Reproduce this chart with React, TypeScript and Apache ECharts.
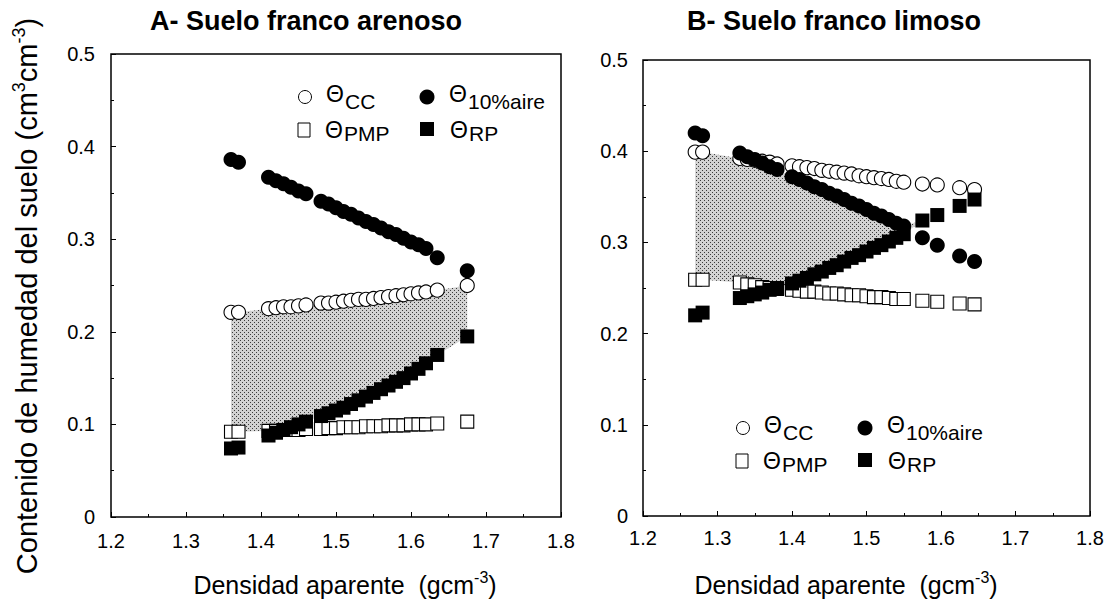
import React, { useEffect, useRef } from "react";
import * as echarts from "echarts";

const FONT = "'Liberation Sans', Arial, Helvetica, sans-serif";

// Axis ranges shared by both panels
const xRange = [1.2, 1.8];
const yRange = [0, 0.5];
const xStep = 0.1;
const yStep = 0.1;

// Panel titles and series labels
const panelTitles = ["A- Suelo franco arenoso", "B- Suelo franco limoso"];
const seriesKeys = ["CC", "10%aire", "PMP", "RP"];

// A – sandy loam: bulk density (g cm-3) and water contents (cm3 cm-3)
const densityA = [1.36, 1.37, 1.41, 1.42, 1.43, 1.44, 1.45, 1.46, 1.48, 1.49, 1.5, 1.51, 1.52, 1.53, 1.54, 1.55, 1.56, 1.57, 1.58, 1.59, 1.6, 1.61, 1.62, 1.635, 1.675];
const ccA = [0.221, 0.221, 0.225, 0.226, 0.227, 0.227, 0.228, 0.229, 0.231, 0.231, 0.232, 0.233, 0.234, 0.235, 0.235, 0.236, 0.237, 0.238, 0.239, 0.24, 0.241, 0.242, 0.243, 0.245, 0.25];
const aireA = [0.386, 0.383, 0.367, 0.363, 0.36, 0.356, 0.352, 0.349, 0.341, 0.338, 0.334, 0.33, 0.327, 0.323, 0.319, 0.316, 0.312, 0.308, 0.305, 0.301, 0.297, 0.294, 0.29, 0.28, 0.266];
const pmpA = [0.092, 0.092, 0.093, 0.093, 0.094, 0.094, 0.094, 0.095, 0.095, 0.096, 0.096, 0.097, 0.097, 0.097, 0.098, 0.098, 0.098, 0.099, 0.099, 0.099, 0.1, 0.1, 0.1, 0.101, 0.103];
const rpA = [0.074, 0.075, 0.088, 0.091, 0.094, 0.097, 0.1, 0.103, 0.109, 0.112, 0.115, 0.118, 0.122, 0.126, 0.13, 0.134, 0.138, 0.142, 0.146, 0.15, 0.155, 0.16, 0.166, 0.175, 0.195];

// B – silt loam
const densityB = [1.27, 1.28, 1.33, 1.34, 1.35, 1.36, 1.37, 1.38, 1.4, 1.41, 1.42, 1.43, 1.44, 1.45, 1.46, 1.47, 1.48, 1.49, 1.5, 1.51, 1.52, 1.53, 1.54, 1.55, 1.575, 1.595, 1.625, 1.645];
const ccB = [0.399, 0.399, 0.392, 0.391, 0.39, 0.389, 0.388, 0.386, 0.384, 0.383, 0.382, 0.381, 0.379, 0.378, 0.377, 0.376, 0.375, 0.373, 0.372, 0.371, 0.37, 0.369, 0.367, 0.366, 0.364, 0.363, 0.36, 0.358];
const aireB = [0.42, 0.417, 0.398, 0.394, 0.391, 0.387, 0.383, 0.38, 0.372, 0.369, 0.365, 0.361, 0.358, 0.354, 0.351, 0.347, 0.343, 0.34, 0.336, 0.332, 0.329, 0.325, 0.321, 0.318, 0.305, 0.297, 0.285, 0.279];
const pmpB = [0.259, 0.259, 0.256, 0.254, 0.253, 0.251, 0.25, 0.249, 0.248, 0.247, 0.246, 0.246, 0.245, 0.244, 0.244, 0.243, 0.242, 0.242, 0.241, 0.24, 0.24, 0.239, 0.238, 0.238, 0.236, 0.235, 0.233, 0.232];
const rpB = [0.22, 0.223, 0.239, 0.241, 0.243, 0.245, 0.248, 0.25, 0.255, 0.258, 0.261, 0.265, 0.268, 0.272, 0.275, 0.279, 0.283, 0.286, 0.29, 0.294, 0.297, 0.301, 0.305, 0.309, 0.324, 0.33, 0.34, 0.347];

// Plot boxes (px) and legend anchors (centre of the open-circle key)
const gridBoxes = [
  { left: 111, top: 54, width: 450, height: 463, labelGapX: 14, labelGapY: 16 },
  { left: 643, top: 60, width: 447, height: 456, labelGapX: 12, labelGapY: 15 },
];
const legendAnchors = [
  [305, 97],
  [743, 428],
];

function makeStipple(): HTMLCanvasElement {
  const c = document.createElement("canvas");
  c.width = 4;
  c.height = 4;
  const ctx = c.getContext("2d")!;
  ctx.fillStyle = "#d2d2d2";
  ctx.fillRect(0, 0, 4, 4);
  ctx.fillStyle = "#3a3a3a";
  ctx.fillRect(0, 0, 1, 1);
  ctx.fillRect(2, 2, 1, 1);
  return c;
}

function panelSeries(
  idx: number,
  dens: number[],
  cc: number[],
  aire: number[],
  pmp: number[],
  rp: number[],
  stipple: HTMLCanvasElement
) {
  // Optimal water range: between max(PMP, RP) and min(CC, 10% aire)
  const band = dens.map((d, i) => {
    const lo = Math.max(pmp[i], rp[i]);
    const hi = Math.max(Math.min(cc[i], aire[i]), lo);
    return [d, lo, hi];
  });
  const pts = (ys: number[]) => dens.map((d, i) => [d, ys[i]]);
  const common = {
    type: "scatter",
    xAxisIndex: idx,
    yAxisIndex: idx,
    silent: true,
    emphasis: { disabled: true },
    z: 3,
  };
  return [
    {
      type: "custom",
      xAxisIndex: idx,
      yAxisIndex: idx,
      silent: true,
      z: 1,
      data: band,
      encode: { x: 0, y: [1, 2] },
      renderItem: (params: any, api: any) => {
        if (params.dataIndex !== 0) return null;
        const top = band.map((b) => api.coord([b[0], b[2]]));
        const bottom = band.map((b) => api.coord([b[0], b[1]])).reverse();
        return {
          type: "polygon",
          shape: { points: top.concat(bottom) },
          style: {
            fill: { image: stipple, repeat: "repeat", imageWidth: 4, imageHeight: 4 },
            stroke: null,
          },
        };
      },
    },
    {
      ...common,
      name: seriesKeys[0],
      symbol: "circle",
      symbolSize: 14,
      data: pts(cc),
      itemStyle: { color: "#fff", borderColor: "#000", borderWidth: 1.1, opacity: 1 },
    },
    {
      ...common,
      name: seriesKeys[2],
      symbol: "rect",
      symbolSize: 13,
      data: pts(pmp),
      itemStyle: { color: "#fff", borderColor: "#000", borderWidth: 1.1, opacity: 1 },
    },
    {
      ...common,
      name: seriesKeys[1],
      symbol: "circle",
      symbolSize: 15,
      data: pts(aire),
      itemStyle: { color: "#000", borderWidth: 0, opacity: 1 },
    },
    {
      ...common,
      name: seriesKeys[3],
      symbol: "rect",
      symbolSize: 14,
      data: pts(rp),
      itemStyle: { color: "#000", borderWidth: 0, opacity: 1 },
    },
  ];
}

function legendGraphics(ax: number, ay: number) {
  const theta = (x: number, y: number) => ({
    type: "text",
    x,
    y,
    silent: true,
    style: { text: "Θ", fontSize: 23, fontFamily: FONT, fill: "#000", align: "left", verticalAlign: "middle" },
  });
  const sub = (x: number, y: number, t: string) => ({
    type: "text",
    x,
    y,
    silent: true,
    style: { text: t, fontSize: 21, fontFamily: FONT, fill: "#000", align: "left", verticalAlign: "middle" },
  });
  return [
    { type: "circle", silent: true, shape: { cx: ax, cy: ay, r: 6.5 }, style: { fill: "#fff", stroke: "#000", lineWidth: 1 } },
    theta(ax + 21, ay - 3),
    sub(ax + 40, ay + 4, seriesKeys[0]),
    { type: "circle", silent: true, shape: { cx: ax + 122, cy: ay, r: 7.5 }, style: { fill: "#000" } },
    theta(ax + 144, ay - 3),
    sub(ax + 163, ay + 4, seriesKeys[1]),
    { type: "rect", silent: true, shape: { x: ax - 7, y: ay + 26, width: 12, height: 14 }, style: { fill: "#fff", stroke: "#000", lineWidth: 1 } },
    theta(ax + 20, ay + 33),
    sub(ax + 39, ay + 36, seriesKeys[2]),
    { type: "rect", silent: true, shape: { x: ax + 115, y: ay + 25, width: 14, height: 14 }, style: { fill: "#000" } },
    theta(ax + 145, ay + 33),
    sub(ax + 164, ay + 36, seriesKeys[3]),
  ];
}

function xTitle(cx: number, cy: number) {
  return {
    type: "text",
    x: cx,
    y: cy,
    silent: true,
    style: {
      text: "{m|Densidad aparente  (gcm}{s|-3}{m|)}",
      align: "center",
      verticalAlign: "middle",
      rich: {
        m: { fontSize: 25, fontFamily: FONT, fill: "#000", lineHeight: 32 },
        s: { fontSize: 16, fontFamily: FONT, fill: "#000", lineHeight: 16, verticalAlign: "top" },
      },
    },
  };
}

function buildOption() {
  const stipple = makeStipple();
  const axisCommon = {
    axisLine: { show: false },
    axisTick: { show: true, inside: true, length: 5, lineStyle: { color: "#000", width: 1 } },
    minorTick: { show: true, splitNumber: 2, length: 3, lineStyle: { color: "#000", width: 1 } },
    splitLine: { show: false },
    minorSplitLine: { show: false },
  };
  return {
    animation: false,
    backgroundColor: "#fff",
    grid: gridBoxes.map((g) => ({
      left: g.left,
      top: g.top,
      width: g.width,
      height: g.height,
      show: true,
      borderColor: "#000",
      borderWidth: 1.5,
      backgroundColor: "transparent",
    })),
    xAxis: gridBoxes.map((g, i) => ({
      ...axisCommon,
      type: "value",
      gridIndex: i,
      min: xRange[0],
      max: xRange[1],
      interval: xStep,
      axisLabel: { color: "#000", fontSize: 20, fontFamily: FONT, margin: g.labelGapX },
    })),
    yAxis: gridBoxes.map((g, i) => ({
      ...axisCommon,
      type: "value",
      gridIndex: i,
      min: yRange[0],
      max: yRange[1],
      interval: yStep,
      axisLabel: { color: "#000", fontSize: 20, fontFamily: FONT, margin: g.labelGapY },
    })),
    series: [
      ...panelSeries(0, densityA, ccA, aireA, pmpA, rpA, stipple),
      ...panelSeries(1, densityB, ccB, aireB, pmpB, rpB, stipple),
    ],
    graphic: [
      {
        type: "text",
        x: 150,
        y: 21,
        silent: true,
        style: { text: panelTitles[0], fontSize: 27, fontWeight: "bold", fontFamily: FONT, fill: "#000", verticalAlign: "middle" },
      },
      {
        type: "text",
        x: 687,
        y: 21,
        silent: true,
        style: { text: panelTitles[1], fontSize: 27, fontWeight: "bold", fontFamily: FONT, fill: "#000", verticalAlign: "middle" },
      },
      {
        type: "text",
        x: 27,
        y: 296,
        rotation: Math.PI / 2,
        silent: true,
        style: {
          text: "{m|Contenido de humedad del suelo (cm}{s|3}{m|cm}{s|-3}{m|)}",
          align: "center",
          verticalAlign: "middle",
          rich: {
            m: { fontSize: 29, fontFamily: FONT, fill: "#000", lineHeight: 34 },
            s: { fontSize: 18, fontFamily: FONT, fill: "#000", lineHeight: 17, verticalAlign: "top" },
          },
        },
      },
      xTitle(345, 585),
      xTitle(846, 585),
      ...legendGraphics(legendAnchors[0][0], legendAnchors[0][1]),
      ...legendGraphics(legendAnchors[1][0], legendAnchors[1][1]),
    ],
  };
}

export default function App() {
  const ref = useRef<HTMLDivElement>(null);
  useEffect(() => {
    if (!ref.current) return;
    const chart = echarts.init(ref.current, null, { renderer: "svg" });
    chart.setOption(buildOption() as any);
    return () => chart.dispose();
  }, []);
  return (
    <div
      ref={ref}
      style={{ position: "absolute", left: 0, top: 0, width: 1114, height: 604, background: "#fff" }}
    />
  );
}
